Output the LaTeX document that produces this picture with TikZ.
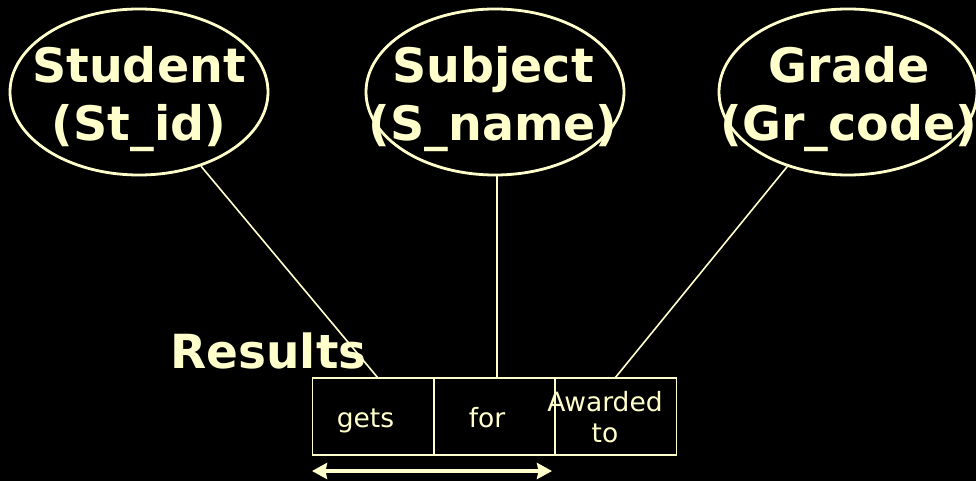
\documentclass[tikz,border=0pt]{standalone}
\usepackage{fontspec}
\setmainfont{DejaVu Sans}
\usetikzlibrary{shapes.geometric,arrows.meta}
\definecolor{cream}{HTML}{FFFFCC}
\begin{document}
\begin{tikzpicture}[x=1pt,y=-1pt,
  ent/.style={draw=cream,line width=2.8pt,ellipse,minimum width=258pt,minimum height=166pt,inner sep=0pt},
  bigtxt/.style={text=cream,font=\fontsize{47.5}{58}\selectfont\bfseries,align=center,inner sep=0pt},
  cell/.style={draw=cream,line width=1.7pt,rectangle,minimum width=121pt,minimum height=77pt,inner sep=0pt},
  smalltxt/.style={text=cream,font=\fontsize{26.5}{31}\selectfont,align=center,inner sep=0pt,anchor=base},
  link/.style={draw=cream,line width=1.6pt}]
\fill[black] (0,0) rectangle (976,481);
\useasboundingbox (0,0) rectangle (976,481);
% entities
\node[ent] (e1) at (139,92) {};
\node[ent] (e2) at (495,92) {};
\node[ent] (e3) at (848,92) {};
\node[bigtxt,anchor=base] (t1) at (139,141) {Student\\(St\_id)};
\node[bigtxt,anchor=base] (t2) at (493,141) {Subject\\(S\_name)};
\node[bigtxt,anchor=base] (t3) at (849,141) {Grade\\(Gr\_code)};
% relationship cells
\node[cell] (r1) at (373,416.5) {};
\node[cell] (r2) at (494.5,416.5) {};
\node[cell] (r3) at (616,416.5) {};
\node[smalltxt] (g) at (365.5,427) {gets};
\node[smalltxt] (f) at (487,427) {for};
\node[smalltxt] (a) at (605,442) {Awarded\\to};
\node[text=cream,font=\fontsize{47}{58}\selectfont\bfseries,inner sep=0pt,anchor=base] (res) at (268.5,368) {Results};
% connectors
\coordinate (c1) at (378,378);
\coordinate (c2) at (497,378);
\coordinate (c3) at (615,378);
\draw[link] (e1) -- (c1);
\draw[link] (e2.south -| c2) -- (c2);
\draw[link] (e3) -- (c3);
% double arrow
\coordinate (a1) at (312,471);
\coordinate (a2) at (552,471);
\draw[draw=cream,fill=cream,line width=3.6pt,{Triangle[length=15pt,width=16pt,inset=1.5pt]}-{Triangle[length=15pt,width=16pt,inset=1.5pt]}] (a1) -- (a2);
\end{tikzpicture}
\end{document}
